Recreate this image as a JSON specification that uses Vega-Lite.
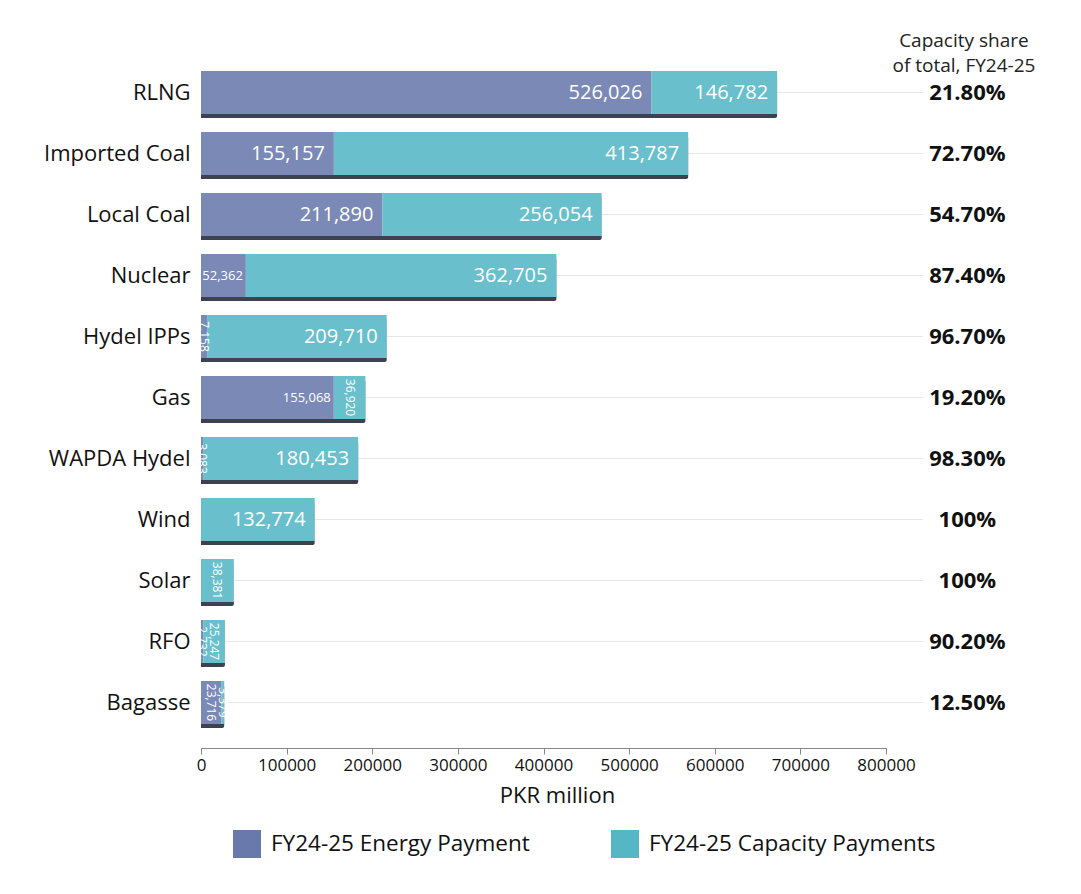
{
  "$schema": "https://vega.github.io/schema/vega-lite/v6.json",
  "width": 685,
  "height": 671,
  "autosize": "none",
  "padding": {"left": 201, "top": 62, "right": 195, "bottom": 161},
  "background": "white",
  "config": {
    "view": {"stroke": null},
    "font": "Open Sans"
  },
  "datasets": {
    "payments": [
      {"source": "RLNG", "type": "FY24-25 Energy Payment", "value": 526026},
      {"source": "RLNG", "type": "FY24-25 Capacity Payments", "value": 146782},
      {"source": "Imported Coal", "type": "FY24-25 Energy Payment", "value": 155157},
      {"source": "Imported Coal", "type": "FY24-25 Capacity Payments", "value": 413787},
      {"source": "Local Coal", "type": "FY24-25 Energy Payment", "value": 211890},
      {"source": "Local Coal", "type": "FY24-25 Capacity Payments", "value": 256054},
      {"source": "Nuclear", "type": "FY24-25 Energy Payment", "value": 52362},
      {"source": "Nuclear", "type": "FY24-25 Capacity Payments", "value": 362705},
      {"source": "Hydel IPPs", "type": "FY24-25 Energy Payment", "value": 7158},
      {"source": "Hydel IPPs", "type": "FY24-25 Capacity Payments", "value": 209710},
      {"source": "Gas", "type": "FY24-25 Energy Payment", "value": 155068},
      {"source": "Gas", "type": "FY24-25 Capacity Payments", "value": 36920},
      {"source": "WAPDA Hydel", "type": "FY24-25 Energy Payment", "value": 3083},
      {"source": "WAPDA Hydel", "type": "FY24-25 Capacity Payments", "value": 180453},
      {"source": "Wind", "type": "FY24-25 Capacity Payments", "value": 132774},
      {"source": "Solar", "type": "FY24-25 Capacity Payments", "value": 38381},
      {"source": "RFO", "type": "FY24-25 Energy Payment", "value": 2732},
      {"source": "RFO", "type": "FY24-25 Capacity Payments", "value": 25247},
      {"source": "Bagasse", "type": "FY24-25 Energy Payment", "value": 23716},
      {"source": "Bagasse", "type": "FY24-25 Capacity Payments", "value": 3379}
    ],
    "shares": [
      {"source": "RLNG", "share": "21.80%"},
      {"source": "Imported Coal", "share": "72.70%"},
      {"source": "Local Coal", "share": "54.70%"},
      {"source": "Nuclear", "share": "87.40%"},
      {"source": "Hydel IPPs", "share": "96.70%"},
      {"source": "Gas", "share": "19.20%"},
      {"source": "WAPDA Hydel", "share": "98.30%"},
      {"source": "Wind", "share": "100%"},
      {"source": "Solar", "share": "100%"},
      {"source": "RFO", "share": "90.20%"},
      {"source": "Bagasse", "share": "12.50%"}
    ]
  },
  "data": {"name": "payments"},
  "transform": [
    {"stack": "value", "groupby": ["source"], "sort": [{"field": "type", "order": "descending"}], "as": ["x0", "x1"]},
    {"calculate": "(datum.x0 + datum.x1) / 2", "as": "mid"}
  ],
  "encoding": {
    "y": {
      "field": "source",
      "type": "nominal",
      "sort": ["RLNG", "Imported Coal", "Local Coal", "Nuclear", "Hydel IPPs", "Gas", "WAPDA Hydel", "Wind", "Solar", "RFO", "Bagasse"],
      "scale": {"paddingInner": 0.295, "paddingOuter": 0.1475},
      "axis": {
        "title": null,
        "domain": false,
        "ticks": false,
        "labelFontSize": 22,
        "labelColor": "#111",
        "labelPadding": 11,
        "labelLimit": 300
      }
    }
  },
  "layer": [
    {
      "mark": {"type": "rule", "color": "#e6e6e6", "strokeWidth": 1},
      "encoding": {
        "x": {"datum": 0, "type": "quantitative"},
        "x2": {"datum": 843000}
      }
    },
    {
      "transform": [{"aggregate": [{"op": "sum", "field": "value", "as": "total"}], "groupby": ["source"]}],
      "mark": {"type": "bar", "color": "#3c4250", "yOffset": 4, "cornerRadiusEnd": 2},
      "encoding": {
        "x": {"field": "total", "type": "quantitative", "stack": null}
      }
    },
    {
      "transform": [{"aggregate": [{"op": "sum", "field": "value", "as": "total"}], "groupby": ["source"]}],
      "mark": {"type": "bar", "color": "white"},
      "encoding": {
        "x": {"field": "total", "type": "quantitative", "stack": null}
      }
    },
    {
      "mark": {"type": "bar", "opacity": 0.88},
      "encoding": {
        "x": {
          "field": "x0",
          "type": "quantitative",
          "scale": {"domain": [0, 800000]},
          "axis": {
            "title": "PKR million",
            "values": [0, 100000, 200000, 300000, 400000, 500000, 600000, 700000, 800000],
            "format": "d",
            "grid": false,
            "offset": 15,
            "domainColor": "#888",
            "tickColor": "#888",
            "tickSize": 6,
            "labelFontSize": 17,
            "labelColor": "#111",
            "labelPadding": 3,
            "labelFlush": false,
            "titleFontSize": 22,
            "titleFontWeight": "normal",
            "titleColor": "#111",
            "titlePadding": 12,
            "titleX": 356
          }
        },
        "x2": {"field": "x1"},
        "color": {
          "field": "type",
          "type": "nominal",
          "sort": ["FY24-25 Energy Payment", "FY24-25 Capacity Payments"],
          "scale": {"domain": ["FY24-25 Energy Payment", "FY24-25 Capacity Payments"], "range": ["#6979ac", "#55b6c5"]},
          "legend": {
            "title": null,
            "orient": "none",
            "direction": "horizontal",
            "legendX": 32,
            "legendY": 768,
            "symbolType": "square",
            "symbolSize": 784,
            "symbolOpacity": 1,
            "symbolStrokeWidth": 0,
            "labelFontSize": 22.5,
            "labelColor": "#111",
            "labelOffset": 10,
            "labelLimit": 400,
            "columnPadding": 81
          }
        }
      }
    },
    {
      "transform": [{"filter": "datum.value >= 40000 && !(datum.type == 'FY24-25 Energy Payment' && (datum.source == 'Gas' || datum.source == 'Nuclear'))"}],
      "mark": {"type": "text", "align": "right", "baseline": "middle", "dx": -9, "color": "white", "fontSize": 20},
      "encoding": {
        "x": {"field": "x1", "type": "quantitative"},
        "text": {"field": "value", "type": "quantitative", "format": ","}
      }
    },
    {
      "transform": [{"filter": "datum.value >= 40000 && datum.type == 'FY24-25 Energy Payment' && (datum.source == 'Gas' || datum.source == 'Nuclear')"}],
      "mark": {"type": "text", "align": "right", "baseline": "middle", "dx": -3, "color": "white", "fontSize": 13},
      "encoding": {
        "x": {"field": "x1", "type": "quantitative"},
        "text": {"field": "value", "type": "quantitative", "format": ","}
      }
    },
    {
      "transform": [{"filter": "datum.value < 40000"}],
      "mark": {"type": "text", "align": "center", "baseline": "middle", "angle": 90, "color": "white", "fontSize": 12},
      "encoding": {
        "x": {"field": "mid", "type": "quantitative"},
        "text": {"field": "value", "type": "quantitative", "format": ","}
      }
    },
    {
      "data": {"name": "shares"},
      "mark": {"type": "text", "align": "center", "baseline": "middle", "fontSize": 22, "fontWeight": "bold", "color": "#111"},
      "encoding": {
        "x": {"datum": 895000, "type": "quantitative"},
        "text": {"field": "share"}
      }
    },
    {
      "data": {"values": [{"source": "RLNG", "label": ["Capacity share", "of total, FY24-25"]}]},
      "mark": {"type": "text", "align": "center", "baseline": "middle", "fontSize": 19, "lineHeight": 25, "yOffset": -52, "color": "#222"},
      "encoding": {
        "x": {"datum": 891000, "type": "quantitative"},
        "text": {"field": "label"}
      }
    }
  ]
}
